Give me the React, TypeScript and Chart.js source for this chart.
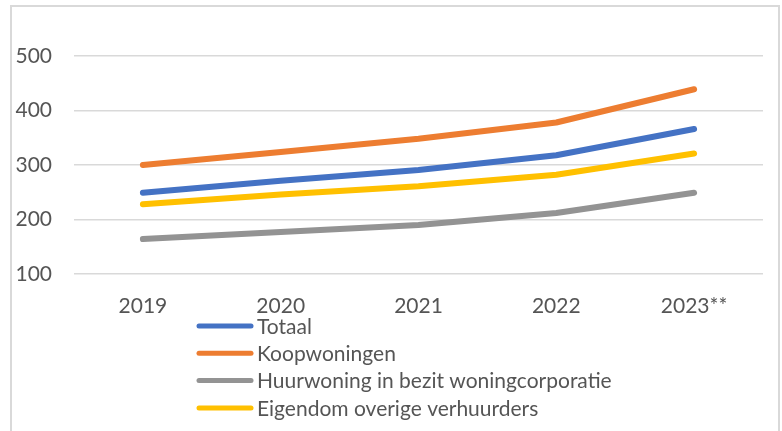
import { useEffect, useRef } from "react";
import { Chart, registerables } from "chart.js";

Chart.register(...registerables);

const categories = ["2019", "2020", "2021", "2022", "2023**"];
const totaal = [249, 271, 291, 318, 366];
const koopwoningen = [300, 324, 348, 378, 439];
const huurCorporatie = [164, 177, 190, 212, 249];
const overigeVerhuurders = [228, 246, 261, 282, 321];
const seriesLabels = [
  "Totaal",
  "Koopwoningen",
  "Huurwoning in bezit woningcorporatie",
  "Eigendom overige verhuurders",
];
const seriesColors = ["#4472C4", "#ED7D31", "#939393", "#FFC000"];
const yMin = 100;
const yMax = 500;
const yStep = 100;

const FONT = "Lato, 'Open Sans', sans-serif";
const TEXT = "#555555";

const listLegend = {
  id: "listLegend",
  afterDraw(chart: any) {
    const { ctx, chartArea } = chart;
    ctx.save();
    ctx.font = `21px ${FONT}`;
    ctx.textBaseline = "middle";
    ctx.textAlign = "left";
    chart.data.datasets.forEach((ds: any, i: number) => {
      const y = chartArea.bottom + 52 + i * 27.3;
      ctx.strokeStyle = ds.borderColor;
      ctx.lineWidth = 5;
      ctx.lineCap = "round";
      ctx.beginPath();
      ctx.moveTo(199, y);
      ctx.lineTo(251, y);
      ctx.stroke();
      ctx.fillStyle = TEXT;
      ctx.fillText(ds.label, 257, y + 1);
    });
    ctx.restore();
  },
};

export default function App() {
  const ref = useRef<HTMLCanvasElement | null>(null);

  useEffect(() => {
    if (!ref.current) return;
    const values = [totaal, koopwoningen, huurCorporatie, overigeVerhuurders];
    const chart = new Chart(ref.current, {
      type: "line",
      data: {
        labels: categories,
        datasets: values.map((v, i) => ({
          label: seriesLabels[i],
          data: v,
          borderColor: seriesColors[i],
          backgroundColor: seriesColors[i],
          borderWidth: 6,
          borderCapStyle: "round",
          borderJoinStyle: "round",
          pointRadius: 0,
          pointHoverRadius: 0,
          tension: 0,
          fill: false,
        })),
      },
      options: {
        responsive: false,
        animation: false,
        layout: { padding: { top: 56, right: 19, bottom: 0, left: 0 } },
        plugins: {
          legend: { display: false },
          tooltip: { enabled: false },
        },
        scales: {
          x: {
            offset: true,
            grid: { display: false, drawTicks: false },
            border: { display: false },
            ticks: {
              color: TEXT,
              font: { family: FONT, size: 21 },
              padding: 20,
              maxRotation: 0,
            },
            afterFit(scale: any) {
              scale.height = 431 - 274;
            },
          },
          y: {
            min: yMin,
            max: yMax,
            grid: { color: "#d9d9d9", lineWidth: 1.5, drawTicks: false },
            border: { display: false },
            ticks: {
              stepSize: yStep,
              color: TEXT,
              font: { family: FONT, size: 21 },
              padding: 22,
            },
            afterFit(scale: any) {
              scale.width = 74;
            },
          },
        },
      },
      plugins: [listLegend],
    });
    return () => chart.destroy();
  }, []);

  return (
    <div
      style={{
        position: "fixed",
        left: 0,
        top: 0,
        width: 782,
        height: 431,
        background: "#fff",
        overflow: "hidden",
      }}
    >
      <div
        style={{
          position: "absolute",
          left: 10,
          top: 5,
          width: 770,
          height: 440,
          border: "2px solid #d9d9d9",
          boxSizing: "border-box",
        }}
      />
      <canvas
        ref={ref}
        width={782}
        height={431}
        style={{ position: "absolute", left: 0, top: 0 }}
      />
    </div>
  );
}
